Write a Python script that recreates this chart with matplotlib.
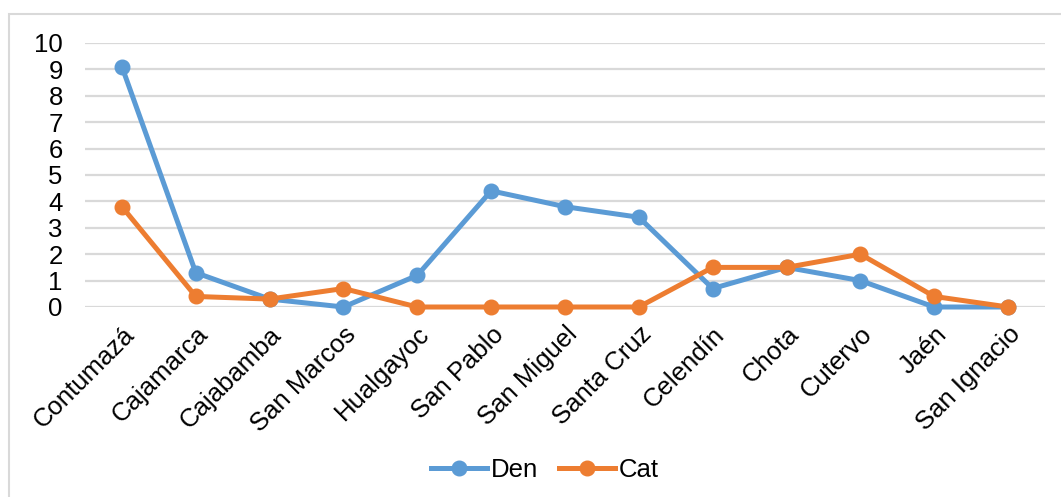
import matplotlib.pyplot as plt
from matplotlib.patches import Rectangle

provincias = ['Contumazá', 'Cajamarca', 'Cajabamba', 'San Marcos', 'Hualgayoc',
              'San Pablo', 'San Miguel', 'Santa Cruz', 'Celendín', 'Chota',
              'Cutervo', 'Jaén', 'San Ignacio']
den = [9.1, 1.3, 0.3, 0.0, 1.2, 4.4, 3.8, 3.4, 0.7, 1.5, 1.0, 0.0, 0.0]
cat = [3.8, 0.4, 0.3, 0.7, 0.0, 0.0, 0.0, 0.0, 1.5, 1.5, 2.0, 0.4, 0.0]

plt.rcParams['font.family'] = ['Liberation Sans', 'DejaVu Sans']

fig = plt.figure(figsize=(10.61, 4.97), dpi=100)
# marco gris del grafico
fig.patches.append(Rectangle((9/1061, -0.1), 1.2, 1.1 - 14/497, transform=fig.transFigure,
                             fill=False, edgecolor='#d9d9d9', linewidth=1.5))
ax = fig.add_axes([85/1061, 1 - 307/497, 960/1061, 264/497])

x = range(len(provincias))
ax.plot(x, den, color='#5b9bd5', lw=3.6, marker='o', ms=10.5, label='Den', clip_on=False, zorder=3)
ax.plot(x, cat, color='#ed7d31', lw=3.6, marker='o', ms=10.5, label='Cat', clip_on=False, zorder=4)

ax.set_xlim(-0.5, 12.5)
ax.set_ylim(0, 10)
ax.set_yticks(range(0, 11))
ax.set_xticks(list(x))
ax.set_xticklabels(provincias, rotation=45, ha='right', rotation_mode='anchor')
ax.tick_params(axis='both', length=0, labelsize=18.5)
ax.tick_params(axis='y', pad=16)
ax.tick_params(axis='x', pad=11)
ax.grid(axis='y', color='#d9d9d9', lw=1.6)
ax.set_axisbelow(True)
for s in ax.spines.values():
    s.set_visible(False)

ax.legend(loc='center', bbox_to_anchor=(0.479, (497 - 470 - (497 - 307)) / 264), ncol=2,
          frameon=False, fontsize=18.5, handlelength=2.2, columnspacing=0.8, handletextpad=0.15)

fig.savefig('out.png', dpi=100)
